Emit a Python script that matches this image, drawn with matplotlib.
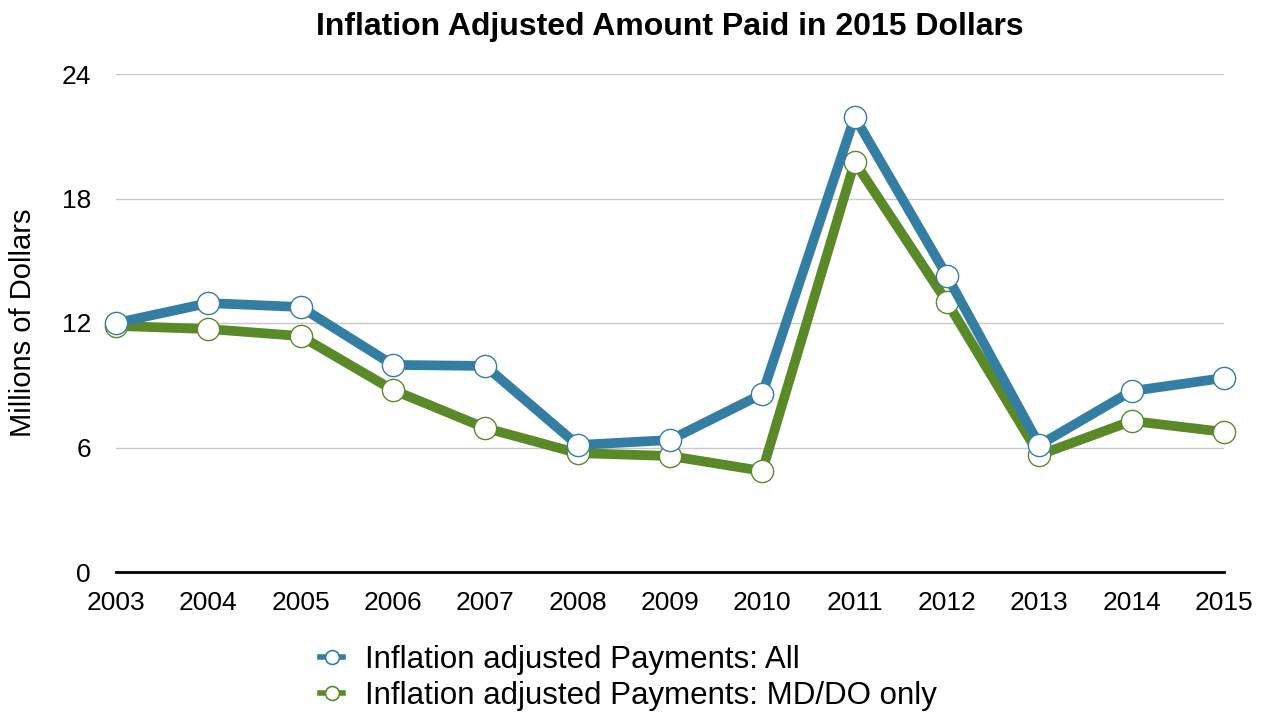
import matplotlib
matplotlib.use("Agg")
import matplotlib.pyplot as plt
from matplotlib.lines import Line2D

years = [2003, 2004, 2005, 2006, 2007, 2008, 2009, 2010, 2011, 2012, 2013, 2014, 2015]
all_payments = [12.0, 12.96, 12.77, 9.98, 9.93, 6.12, 6.36, 8.58, 21.93, 14.27, 6.12, 8.72, 9.35]
mddo_payments = [11.86, 11.71, 11.37, 8.77, 6.94, 5.73, 5.59, 4.87, 19.76, 13.01, 5.64, 7.28, 6.75]
yticks = [0, 6, 12, 18, 24]

label_all = "Inflation adjusted Payments: All"
label_md = "Inflation adjusted Payments: MD/DO only"
blue = "#347ea3"
green = "#5a8a28"

plt.rcParams['font.family'] = ['Liberation Sans', 'DejaVu Sans']

fig = plt.figure(figsize=(12.65, 7.13), dpi=100)
ax = fig.add_axes([116/1265, 141/713, (1224-116)/1265, (572-74)/713])

ax.plot(years, mddo_payments, color=green, lw=7, marker='o', ms=16,
        mfc='white', mec=green, mew=1.0, solid_capstyle='butt', zorder=3, clip_on=False)
ax.plot(years, all_payments, color=blue, lw=7, marker='o', ms=16,
        mfc='white', mec=blue, mew=1.0, solid_capstyle='butt', zorder=4, clip_on=False)

ax.set_xlim(2003, 2015)
ax.set_ylim(0, 24)
ax.set_xticks(years)
ax.set_yticks(yticks)
ax.tick_params(axis='both', length=0, labelsize=19)
ax.tick_params(axis='x', pad=13.5)
ax.tick_params(axis='y', pad=18)
for s in ['top', 'right', 'left']:
    ax.spines[s].set_visible(False)
ax.spines['bottom'].set_linewidth(2)
ax.spines['bottom'].set_color('black')
ax.grid(axis='y', color='#c8c8c8', lw=1)
ax.set_axisbelow(True)
ax.set_ylabel("Millions of Dollars", fontsize=21)
ax.yaxis.set_label_coords(-0.071, 0.5)
ax.set_title("Inflation Adjusted Amount Paid in 2015 Dollars", fontsize=23,
             fontweight='bold', pad=28)

handles = [
    Line2D([], [], color=blue, lw=4, marker='o', ms=10, mfc='white', mec=blue, mew=1.2),
    Line2D([], [], color=green, lw=4, marker='o', ms=10, mfc='white', mec=green, mew=1.2),
]
fig.legend(handles, [label_all, label_md], loc='upper center',
           bbox_to_anchor=(0.4968, 0.0956), frameon=False, fontsize=22.5,
           handlelength=0.74, handletextpad=0.7, labelspacing=0.2, borderpad=0,
           borderaxespad=0)

fig.savefig("out.png", dpi=100)
